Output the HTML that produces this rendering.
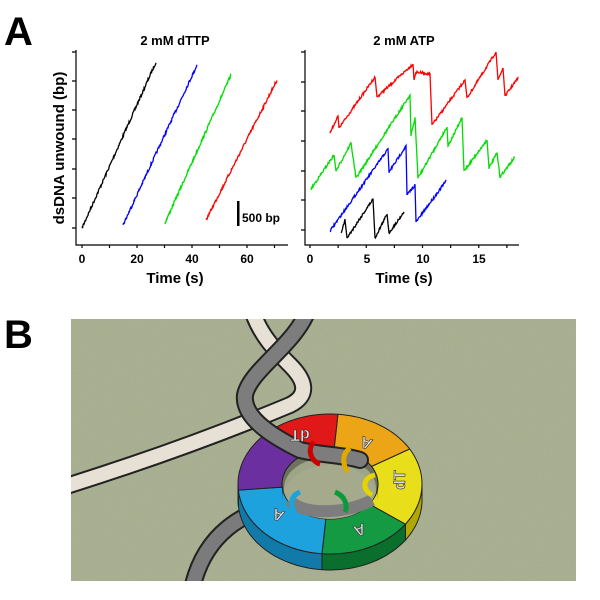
<!DOCTYPE html>
<html><head><style>
body{margin:0;background:#fff;width:600px;height:600px;overflow:hidden}
svg{display:block}
text{font-family:"Liberation Sans",sans-serif;font-weight:bold}
</style></head><body>
<svg id="s" width="600" height="600" viewBox="0 0 600 600">
<defs>
<filter id="tex" x="0" y="0" width="1" height="1"><feTurbulence type="fractalNoise" baseFrequency="0.9" numOctaves="2" seed="3"/><feColorMatrix values="0 0 0 0 0.60  0 0 0 0 0.64  0 0 0 0 0.52  0 0 0 0.25 0"/></filter>
<clipPath id="cb"><rect x="71" y="319" width="505" height="262"/></clipPath>
</defs>
<text x="4" y="45" font-size="40">A</text>
<text x="4" y="348" font-size="40">B</text>
<text x="175" y="45" font-size="13" text-anchor="middle">2 mM dTTP</text>
<text x="404" y="45" font-size="13" text-anchor="middle">2 mM ATP</text>
<g stroke="#000" stroke-width="1.2" fill="none">
<path d="M76 50V245H288"/>
<path d="M305 50V245H519"/>
</g>
<g id="ticks" stroke="#000" stroke-width="1.2"></g>
<g font-size="12" text-anchor="middle">
<text x="82" y="263">0</text><text x="137" y="263">20</text><text x="192" y="263">40</text><text x="247" y="263">60</text>
<text x="310" y="263">0</text><text x="367" y="263">5</text><text x="423" y="263">10</text><text x="479" y="263">15</text>
</g>
<text x="175" y="283" font-size="15" text-anchor="middle">Time (s)</text>
<text x="404" y="283" font-size="15" text-anchor="middle">Time (s)</text>
<text transform="translate(64,148) rotate(-90)" font-size="15" text-anchor="middle">dsDNA unwound (bp)</text>
<rect x="237" y="201" width="2.5" height="25" fill="#000"/>
<text x="242" y="222" font-size="12">500 bp</text>
<g id="traces" fill="none" stroke-width="1.3"></g>
<rect x="71" y="319" width="505" height="262" fill="#a3aa8b"/>
<rect x="71" y="319" width="505" height="262" filter="url(#tex)"/>
<g clip-path="url(#cb)">
<g fill="none">
<path d="M190 600 C200 530 250 510 280 505" stroke="#222" stroke-width="18"/>
<path d="M190 600 C200 530 250 510 280 505" stroke="#7b7b7b" stroke-width="14"/>
<path d="M60 488 C150 460 230 430 290 405 C310 395 305 380 290 365 C275 350 260 335 252 310" stroke="#222" stroke-width="18"/>
<path d="M60 488 C150 460 230 430 290 405 C310 395 305 380 290 365 C275 350 260 335 252 310" stroke="#e6e1d4" stroke-width="14"/>
</g>
<g id="ring"></g>
<g fill="none" stroke-linecap="round">
<path d="M308 310 C295 345 250 370 245 395 C242 420 280 440 300 450 C320 455 345 455 360 460" stroke="#222" stroke-width="18"/>
<path d="M308 310 C295 345 250 370 245 395 C242 420 280 440 300 450 C320 455 345 455 360 460" stroke="#7d7d7d" stroke-width="14"/>
</g>
</g>
<g fill="none" stroke-width="5">
<path d="M314 442 C306 450 312 462 320 464" stroke="#c00"/>
<path d="M350 448 C340 455 344 468 348 472" stroke="#e0a800"/>
<path d="M375 475 C362 478 362 490 372 495" stroke="#e6d400"/>
<path d="M335 492 C345 496 348 505 345 512" stroke="#0a9a3a"/>
<path d="M300 492 C290 496 290 505 295 512" stroke="#1aa3dc"/>
</g>
<g font-size="16" fill="#ddd" stroke="#333" stroke-width="0.6" text-anchor="middle">
<text transform="translate(300,430) rotate(180)">dT</text>
<text transform="translate(368,438) rotate(200)">A</text>
<text transform="translate(405,480) rotate(-90)">dT</text>
<text transform="translate(358,525) rotate(160)">A</text>
<text transform="translate(280,510) rotate(200)">A</text>
</g>
</svg>
<script>
const NS="http://www.w3.org/2000/svg";
function el(p,t,a){const e=document.createElementNS(NS,t);for(const k in a)e.setAttribute(k,a[k]);p.appendChild(e);return e;}
const tk=document.getElementById('ticks');
let d="";
[52,81,110,139,169,198,228].forEach(y=>d+=`M72 ${y}H76`);
[52,82,111,141,171,200,230].forEach(y=>d+=`M301 ${y}H305`);
for(let s=0;s<=70;s+=10)d+=`M${82+s*2.75} 245v3`;
for(let s=0;s<=18;s+=2.5)d+=`M${310+s*11.25} 245v3`;
el(tk,'path',{d:d});
let seed=7;function r(){seed=(seed*16807)%2147483647;return seed/2147483647-0.5;}
function noisy(pts,amp){let s="";for(let i=0;i<pts.length-1;i++){const[a,b]=pts[i],[c,e]=pts[i+1];const n=Math.max(2,Math.round(Math.abs(c-a)*2));const drop=Math.abs(c-a)<3;for(let j=0;j<=n;j++){const t=j/n;s+=(s?"L":"M")+(a+(c-a)*t).toFixed(1)+" "+(b+(e-b)*t+(drop?0:r()*amp)).toFixed(1);}}return s;}
const tr=document.getElementById('traces');
const L=[["#000",[[82,228],[156,62]]],["#00f",[[123,225],[197,65]]],["#0d0",[[165,223],[231,75]]],["#f00",[[206,220],[277,80]]]];
L.forEach(([c,p])=>el(tr,'path',{d:noisy(p,3),stroke:c}));
const R=[["#f00",[[330,133],[338,116],[339,128],[375,77],[377,97],[413,64],[414,80],[416,72],[430,74],[432,125],[465,80],[467,98],[496,52],[498,80],[503,68],[505,96],[518,78]]],
["#0d0",[[311,189],[334,155],[336,171],[351,143],[356,178],[410,95],[411,136],[415,118],[418,178],[447,127],[448,146],[462,118],[464,171],[487,140],[489,168],[497,153],[500,177],[515,157]]],
["#00f",[[330,231],[388,149],[389,172],[406,146],[407,195],[415,185],[416,222],[446,181]]],
["#000",[[341,233],[345,220],[347,238],[373,199],[375,238],[387,214],[389,233],[404,212]]]];
R.forEach(([c,p])=>el(tr,'path',{d:noisy(p,2.5),stroke:c}));
const ring=document.getElementById('ring');
const cx=330,cy=484,ox=92,oy=70,ix=48,iy=35,th=16;
const secs=[[-125,-85,"#e01818","#a00"],[-85,-30,"#eba516","#b07a0a"],[-30,35,"#e8df1a","#b0a800"],[35,95,"#139a43","#0a6e2c"],[95,175,"#1da2dd","#117aa8"],[175,235,"#6b2fa0","#4a1f70"]];
function P(rx,ry,a,dy){a=a*Math.PI/180;return[(cx+rx*Math.cos(a)).toFixed(1),(cy+ry*Math.sin(a)+(dy||0)).toFixed(1)];}
function arc(rx,ry,a0,a1,dy){let s="";for(let a=a0;a<=a1+0.01;a+=(a1-a0)/20){const p=P(rx,ry,a,dy);s+=(s?"L":"M")+p[0]+" "+p[1];}return s;}
secs.forEach(([a0,a1,c,dc])=>{const b0=Math.max(a0,0),b1=Math.min(a1,180);if(b1>b0){const top=arc(ox,oy,b0,b1,0);const bot=arc(ox,oy,b0,b1,th);const botPts=bot.slice(1).split("L").reverse().join("L");el(ring,'path',{d:top+"L"+botPts+"Z",fill:dc,stroke:"#222","stroke-width":1});}});
secs.forEach(([a0,a1,c])=>{const o=arc(ox,oy,a0,a1);const i=arc(ix,iy,a0,a1).slice(1).split("L").reverse().join("L");el(ring,'path',{d:o+"L"+i+"Z",fill:c,stroke:"#222","stroke-width":1});});
el(ring,'path',{d:arc(ix,iy,180,360)+"L"+arc(ix,iy,180,360,th).slice(1).split("L").reverse().join("L")+"Z",fill:"rgba(0,0,0,0.35)"});
el(ring,'ellipse',{cx:cx,cy:cy+4,rx:ix-2,ry:iy-4,fill:"#a3aa8b",opacity:0.9});
el(ring,'path',{d:"M290 500 C300 515 345 515 372 500",fill:"none",stroke:"#7d7d7d","stroke-width":12});
</script>
</body></html>
